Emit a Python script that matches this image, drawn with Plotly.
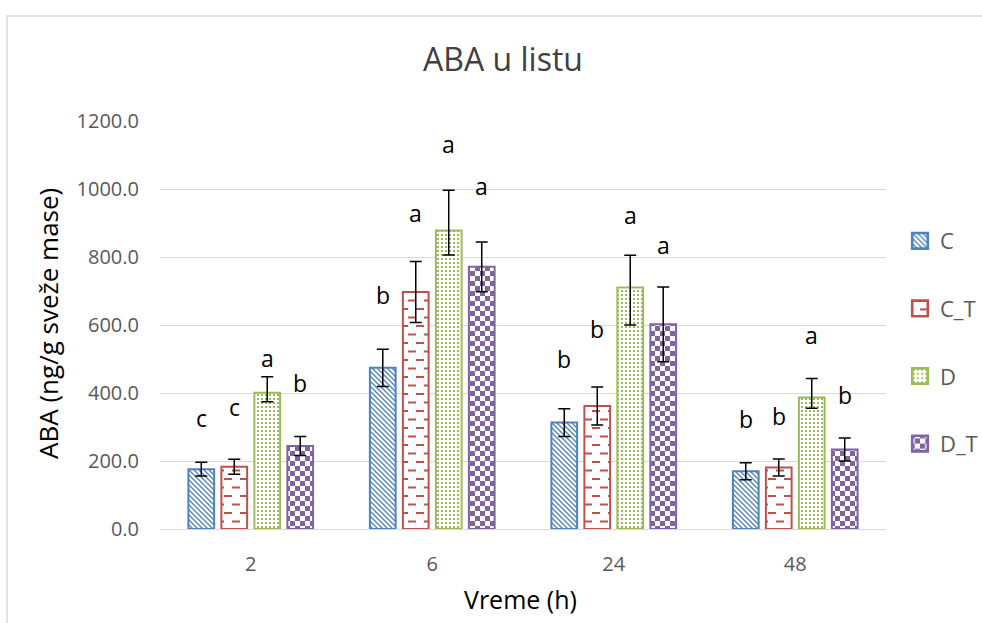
import json
import plotly.graph_objects as go

# ABA content in leaves (ng/g fresh mass) over time
times = ["2", "6", "24", "48"]
series = ["C", "C_T", "D", "D_T"]

c_vals = [176, 474, 313, 170]
c_err = [20, 55, 41, 25]

ct_vals = [183, 697, 362, 181]
ct_err = [22, 90, 56, 25]

d_vals = [401, 878, 710, 387]
d_err_plus = [47, 118, 95, 56]
d_err_minus = [27, 72, 110, 32]

dt_vals = [244, 771, 602, 234]
dt_err = [28, 73, 110, 34]

# significance letters and the heights they are written at
c_letters = ["c", "b", "b", "b"]
ct_letters = ["c", "a", "b", "b"]
d_letters = ["a", "a", "a", "a"]
dt_letters = ["b", "a", "a", "b"]
c_letter_y = [327, 688, 499, 323]
ct_letter_y = [359, 930, 587, 332]
d_letter_y = [503, 1132, 925, 570]
dt_letter_y = [430, 1009, 834, 393]

y_ticks = [0, 200, 400, 600, 800, 1000, 1200]

W, H = 982, 623
ML, MR, MT, MB = 160, 96, 121, 94
PW, PH = W - ML - MR, H - MT - MB
BARGAP = 0.273
BARGROUPGAP = 0.22
pitch = PW / len(times) * (1 - BARGAP) / len(series)

FONT = "Open Sans, Liberation Sans, sans-serif"

BLUE, RED, GREEN, PURPLE = "#4F81BD", "#C0504D", "#9BBB59", "#8064A2"

# plotly fallback fills; the tiles below refine them into Office-style hatches
styles = [
    dict(uid="hatchc", color=BLUE, shape="\\", size=5, solidity=0.3),
    dict(uid="hatchct", color=RED, shape="-", size=8, solidity=0.15),
    dict(uid="hatchd", color=GREEN, shape=".", size=4, solidity=0.4),
    dict(uid="hatchdt", color=PURPLE, shape="+", size=10, solidity=0.3),
]

tiles = {
    "hatchc": dict(w=5, h=5, items=[
        ["path", {"d": "M-1,-1L6,6M-1,4L1,6M4,-1L6,1", "stroke": BLUE,
                  "stroke-width": 1.3, "fill": "none"}]]),
    "hatchct": dict(w=16, h=17, items=[
        ["rect", {"x": 0, "y": 0, "width": 8, "height": 2, "fill": RED}],
        ["rect", {"x": 8, "y": 8.5, "width": 8, "height": 2, "fill": RED}]]),
    "hatchd": dict(w=4, h=4, items=[
        ["rect", {"x": 1, "y": 1, "width": 2, "height": 2, "fill": GREEN}]]),
    "hatchdt": dict(w=10, h=10, items=[
        ["rect", {"x": 0, "y": 0, "width": 5, "height": 5, "fill": PURPLE}],
        ["rect", {"x": 5, "y": 5, "width": 5, "height": 5, "fill": PURPLE}]]),
}

values = [c_vals, ct_vals, d_vals, dt_vals]
err_plus = [c_err, ct_err, d_err_plus, dt_err]
err_minus = [c_err, ct_err, d_err_minus, dt_err]
letters = [c_letters, ct_letters, d_letters, dt_letters]
letter_y = [c_letter_y, ct_letter_y, d_letter_y, dt_letter_y]

fig = go.Figure()
for j, name in enumerate(series):
    st = styles[j]
    fig.add_trace(go.Bar(
        x=times, y=values[j], name=name, legendgroup=name, uid=st["uid"],
        marker=dict(
            color="white",
            line=dict(color=st["color"], width=2),
            pattern=dict(shape=st["shape"], fgcolor=st["color"], bgcolor="white",
                         size=st["size"], solidity=st["solidity"], fillmode="replace"),
        ),
        error_y=dict(type="data", symmetric=False, array=err_plus[j],
                     arrayminus=err_minus[j], color="black", thickness=1.5, width=6),
        hoverinfo="skip",
    ))

annotations = []
for j in range(len(series)):
    for i in range(len(times)):
        annotations.append(dict(
            x=i, y=letter_y[j][i], xref="x", yref="y", text=letters[j][i],
            showarrow=False, xshift=(j - 1.5) * pitch, yanchor="middle",
            font=dict(family=FONT, size=23, color="black"),
        ))

# axis titles
annotations.append(dict(
    x=(520 - ML) / PW, y=(H - MB - 599) / PH, xref="paper", yref="paper",
    text="Vreme (h)", showarrow=False, xanchor="center", yanchor="middle",
    font=dict(family=FONT, size=25, color="black"),
))
annotations.append(dict(
    x=(48 - ML) / PW, y=(H - MB - 324) / PH, xref="paper", yref="paper",
    text="ABA (ng/g sveže mase)", showarrow=False, textangle=-90,
    xanchor="center", yanchor="middle",
    font=dict(family=FONT, size=26, color="black"),
))

fig.update_layout(
    width=W, height=H, autosize=False,
    margin=dict(l=ML, r=MR, t=MT, b=MB, pad=0, autoexpand=False),
    paper_bgcolor="white", plot_bgcolor="white",
    barmode="group", bargap=BARGAP, bargroupgap=BARGROUPGAP,
    title=dict(text="ABA u listu", x=(503 - ML) / PW, xref="paper", xanchor="center",
               y=1 - 60 / H, yref="container", yanchor="middle",
               font=dict(family=FONT, size=32, color="#404040")),
    xaxis=dict(type="category", range=[-0.5, len(times) - 0.5], autorange=False,
               showgrid=False, showline=True, linecolor="#D9D9D9",
               linewidth=1, ticks="", ticklabelstandoff=17,
               tickfont=dict(family=FONT, size=20, color="#595959")),
    yaxis=dict(range=[0, 1200], autorange=False, tickvals=y_ticks, tickformat=".1f",
               showgrid=True, gridcolor="#D9D9D9", gridwidth=1, zeroline=False,
               showline=False, ticks="", ticklabelstandoff=20,
               tickfont=dict(family=FONT, size=20, color="#595959")),
    legend=dict(x=(900 - ML) / PW, xanchor="left", y=(H - MB - 220) / PH, yanchor="top",
                tracegroupgap=36, font=dict(family=FONT, size=22, color="#595959"),
                bgcolor="rgba(0,0,0,0)"),
    annotations=annotations,
    shapes=[dict(type="rect", xref="paper", yref="paper",
                 x0=(7 - ML) / PW, x1=1.6, y0=-0.6, y1=(H - MB - 16) / PH,
                 line=dict(color="#D9D9D9", width=1.5), fillcolor="rgba(0,0,0,0)",
                 layer="below")],
)

post = """
document.body.style.margin = '0';
(function () {
  var NS = 'http://www.w3.org/2000/svg';
  var tiles = TILES;
  var pats = document.querySelectorAll('pattern');
  for (var i = 0; i < pats.length; i++) {
    var p = pats[i];
    for (var uid in tiles) {
      var tail = '-' + uid;
      if (p.id.slice(-tail.length) !== tail) continue;
      var t = tiles[uid];
      p.setAttribute('width', t.w);
      p.setAttribute('height', t.h);
      while (p.firstChild) p.removeChild(p.firstChild);
      var bg = document.createElementNS(NS, 'rect');
      bg.setAttribute('width', t.w);
      bg.setAttribute('height', t.h);
      bg.setAttribute('fill', '#ffffff');
      p.appendChild(bg);
      t.items.forEach(function (it) {
        var e = document.createElementNS(NS, it[0]);
        for (var k in it[1]) e.setAttribute(k, it[1][k]);
        p.appendChild(e);
      });
    }
  }
  var sw = document.querySelectorAll('.legend .legendpoints path');
  for (var j = 0; j < sw.length; j++) {
    var tr = sw[j].getAttribute('transform') || '';
    sw[j].setAttribute('transform', tr + ' scale(1.3)');
  }
})();
""".replace("TILES", json.dumps(tiles))

fig.write_html("out.html", post_script=post)
